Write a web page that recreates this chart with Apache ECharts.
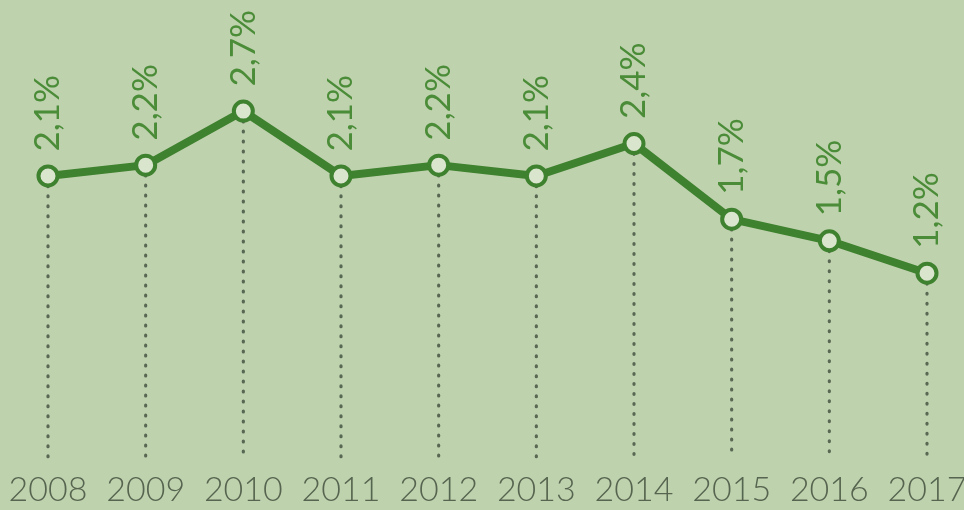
<!DOCTYPE html>
<html>
<head>
<meta charset="utf-8">
<script src="https://cdn.jsdelivr.net/npm/echarts@6/dist/echarts.min.js"></script>
<style>
html,body{margin:0;padding:0;background:#bfd2ae;}
#chart{width:964px;height:510px;}
</style>
</head>
<body>
<div id="chart"></div>
<script>
const years = ['2008','2009','2010','2011','2012','2013','2014','2015','2016','2017'];
const values = [2.1, 2.2, 2.7, 2.1, 2.2, 2.1, 2.4, 1.7, 1.5, 1.2];
const labels = ['2,1%','2,2%','2,7%','2,1%','2,2%','2,1%','2,4%','1,7%','1,5%','1,2%'];
const yMin = -0.5;
const yMax = 3.7;

const chart = echarts.init(document.getElementById('chart'));
chart.setOption({
  backgroundColor: '#bfd2ae',
  animation: false,
  grid: {left: 48, right: 37, top: 3, bottom: 53, containLabel: false, outerBoundsMode: 'none'},
  xAxis: {
    type: 'category',
    data: years,
    boundaryGap: false,
    axisLine: {show: false},
    axisTick: {show: false},
    splitLine: {show: false},
    axisLabel: {
      interval: 0,
      hideOverlap: false,
      color: '#56654f',
      fontFamily: 'Lato',
      fontWeight: 300,
      fontSize: 34,
      margin: 16
    }
  },
  yAxis: {
    type: 'value',
    min: yMin,
    max: yMax,
    show: false,
    splitLine: {show: false}
  },
  series: [
    {
      type: 'custom',
      z: 1,
      data: values.map((v, i) => [i, v]),
      renderItem: function (params, api) {
        const top = api.coord([api.value(0), api.value(1)]);
        const bottom = api.coord([api.value(0), yMin]);
        return {
          type: 'line',
          shape: {x1: top[0], y1: top[1], x2: bottom[0], y2: bottom[1]},
          style: {stroke: '#586853', lineWidth: 3.2, lineDash: [0.8, 9.2], lineCap: 'round'}
        };
      }
    },
    {
      type: 'line',
      z: 3,
      data: values,
      symbol: 'circle',
      symbolSize: 19,
      lineStyle: {color: '#3e812e', width: 8},
      itemStyle: {color: '#d9e6cd', borderColor: '#3e812e', borderWidth: 4},
      label: {
        show: true,
        position: 'top',
        distance: 13,
        rotate: 90,
        align: 'left',
        verticalAlign: 'middle',
        color: '#4b8c38',
        fontFamily: 'Lato',
        fontSize: 35,
        formatter: function (p) { return labels[p.dataIndex]; }
      }
    }
  ]
});
</script>
</body>
</html>
